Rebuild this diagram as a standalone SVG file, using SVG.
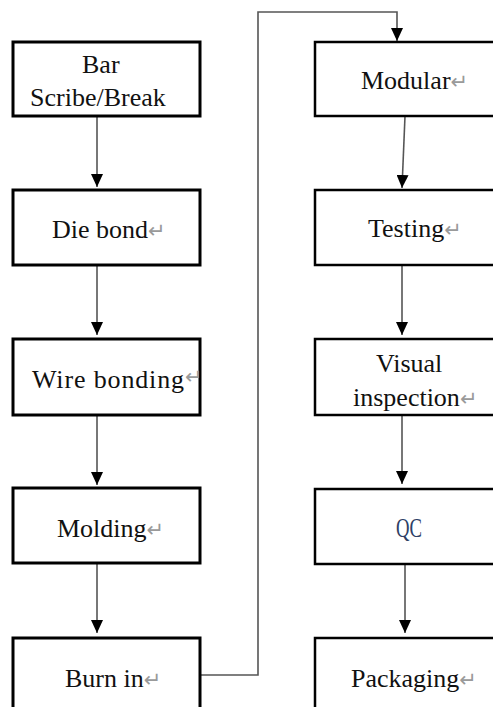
<svg xmlns="http://www.w3.org/2000/svg" width="493" height="707" viewBox="0 0 493 707">
  <defs>
    <marker id="arrow" viewBox="0 0 13 12" refX="13" refY="6" markerWidth="13" markerHeight="12" markerUnits="userSpaceOnUse" orient="auto">
      <path d="M0,0 L13,6 L0,12 Z" fill="#000"/>
    </marker>
    <style>
      .box { fill: #fff; stroke: #000; stroke-width: 3; }
      .rbox { fill: #fff; stroke: #000; stroke-width: 2.5; }
      .label { font-family: "Liberation Serif", "Times New Roman", serif; font-size: 26px; fill: #111; }
      .pm { font-family: "DejaVu Sans", sans-serif; font-size: 21px; fill: #9a9a9a; }
      .qc { font-family: "Liberation Serif", serif; font-size: 27px; fill: #2f3f66; }
      .conn { fill: none; stroke: #555; stroke-width: 1.6; }
    </style>
  </defs>
  <rect width="493" height="707" fill="#fff"/>

  <!-- connectors -->
  <g id="connectors">
    <line class="conn" x1="97" y1="117" x2="97" y2="187" marker-end="url(#arrow)"/>
    <line class="conn" x1="97" y1="265" x2="97" y2="335" marker-end="url(#arrow)"/>
    <line class="conn" x1="97" y1="416" x2="97" y2="485" marker-end="url(#arrow)"/>
    <line class="conn" x1="97" y1="563" x2="97" y2="633" marker-end="url(#arrow)"/>
    <polyline class="conn" points="201,675 258,675 258,12 397,12 397,41" marker-end="url(#arrow)"/>
    <line class="conn" x1="405" y1="116" x2="402" y2="188" marker-end="url(#arrow)"/>
    <line class="conn" x1="402" y1="265" x2="402" y2="335" marker-end="url(#arrow)"/>
    <line class="conn" x1="402" y1="415" x2="402" y2="484" marker-end="url(#arrow)"/>
    <line class="conn" x1="405" y1="565" x2="405" y2="633" marker-end="url(#arrow)"/>
  </g>

  <!-- left column -->
  <g id="bar-scribe-break">
    <rect class="box" x="13" y="42" width="187" height="74"/>
    <text class="label" x="82" y="73">Bar</text>
    <text class="label" x="30" y="106">Scribe/Break</text>
  </g>
  <g id="die-bond">
    <rect class="box" x="13" y="190" width="187" height="75"/>
    <text class="label" x="52" y="238">Die bond<tspan class="pm">↵</tspan></text>
  </g>
  <g id="wire-bonding">
    <rect class="box" x="13" y="339" width="187" height="76"/>
    <text class="label" x="32" y="388" textLength="152">Wire bonding</text>
    <text class="pm" x="185" y="384" font-size="12">↵</text>
  </g>
  <g id="molding">
    <rect class="box" x="13" y="488" width="187" height="75"/>
    <text class="label" x="57" y="537">Molding<tspan class="pm">↵</tspan></text>
  </g>
  <g id="burn-in">
    <rect class="box" x="13" y="638" width="187" height="100"/>
    <text class="label" x="65" y="687">Burn in<tspan class="pm">↵</tspan></text>
  </g>

  <!-- right column -->
  <g id="modular">
    <rect class="rbox" x="315" y="42" width="200" height="74"/>
    <text class="label" x="361" y="89">Modular<tspan class="pm">↵</tspan></text>
  </g>
  <g id="testing">
    <rect class="rbox" x="315" y="190" width="200" height="75"/>
    <text class="label" x="368" y="237">Testing<tspan class="pm">↵</tspan></text>
  </g>
  <g id="visual-inspection">
    <rect class="rbox" x="315" y="339" width="200" height="76"/>
    <text class="label" x="376" y="372">Visual</text>
    <text class="label" x="353" y="406">inspection<tspan class="pm">↵</tspan></text>
  </g>
  <g id="qc">
    <rect class="rbox" x="315" y="489" width="200" height="75"/>
    <text class="qc" x="396" y="537" textLength="26" lengthAdjust="spacingAndGlyphs">QC</text>
  </g>
  <g id="packaging">
    <rect class="rbox" x="315" y="638" width="200" height="100"/>
    <text class="label" x="351" y="687">Packaging<tspan class="pm">↵</tspan></text>
  </g>
</svg>
